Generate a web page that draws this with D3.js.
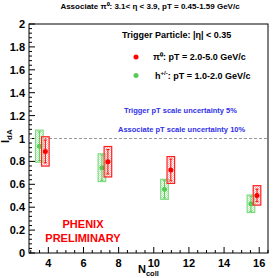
<!DOCTYPE html>
<html><head><meta charset="utf-8">
<script src="https://cdn.jsdelivr.net/npm/d3@7"></script>
<style>body{margin:0;background:#fff}svg{display:block}text{font-family:"Liberation Sans",Arial,sans-serif;font-weight:bold}</style>
</head><body><svg id="c" width="275" height="278"></svg>
<script>
// Data
const piX = [3.83, 7.39, 10.97, 15.875];
const piY = [0.887, 0.797, 0.725, 0.503];
const piStat = [0.10, 0.107, 0.095, 0.055];
const piSys = [0.128, 0.133, 0.117, 0.085];
const hX = [3.49, 7.05, 10.61, 15.53];
const hY = [0.933, 0.745, 0.556, 0.43];
const hStat = [0.125, 0.11, 0.075, 0.065];
const hSys = [0.14, 0.121, 0.087, 0.076];
const xTicks = [4, 6, 8, 10, 12, 14, 16];
const yTicks = [0, 0.2, 0.4, 0.6, 0.8, 1, 1.2, 1.4, 1.6, 1.8, 2];

const svg = d3.select("#c");
const x = d3.scaleLinear().domain([2.9, 16.5]).range([29, 268]);
const y = d3.scaleLinear().domain([0, 2]).range([253, 24]);

const defs = svg.append("defs");
function pat(id, col){
  const p = defs.append("pattern").attr("id", id).attr("width", 2).attr("height", 2).attr("patternUnits", "userSpaceOnUse");
  p.append("rect").attr("width", 1).attr("height", 1).attr("fill", col);
  p.append("rect").attr("x", 1).attr("y", 1).attr("width", 1).attr("height", 1).attr("fill", col);
}
pat("pr", "#ffb0b0");
pat("pg", "#b8ecb8");

// frame
svg.append("rect").attr("x", x.range()[0]).attr("y", y.range()[1])
  .attr("width", x.range()[1] - x.range()[0]).attr("height", y.range()[0] - y.range()[1])
  .attr("fill", "none").attr("stroke", "#000").attr("stroke-width", 1);

// minor/major ticks (inside)
const yMinor = d3.range(0, 2.0001, 0.04);
svg.append("g").selectAll("line").data(yMinor).join("line")
  .attr("x1", x.range()[0]).attr("x2", d => x.range()[0] + (yTicks.some(t => Math.abs(t - d) < 1e-6) ? 6 : 3))
  .attr("y1", d => y(d)).attr("y2", d => y(d)).attr("stroke", "#000");
const xMinor = d3.range(3, 16.51, 0.5);
svg.append("g").selectAll("line").data(xMinor).join("line")
  .attr("y1", y.range()[0]).attr("y2", d => y.range()[0] - (xTicks.includes(d) ? 6 : 3))
  .attr("x1", d => x(d)).attr("x2", d => x(d)).attr("stroke", "#000");

// tick labels
svg.append("g").selectAll("text").data(yTicks).join("text")
  .attr("x", 25).attr("y", d => y(d) + 4).attr("text-anchor", "end").attr("font-size", 11)
  .text(d => d3.format("~g")(d));
svg.append("g").selectAll("text").data(xTicks).join("text")
  .attr("x", d => x(d)).attr("y", 267).attr("text-anchor", "middle").attr("font-size", 11)
  .text(d => d);

// axis titles
const xt = svg.append("text").attr("x", 138).attr("y", 273).attr("font-size", 11);
xt.append("tspan").text("N");
xt.append("tspan").attr("font-size", 7.5).attr("dy", 2.5).text("coll");
const yt = svg.append("text").attr("transform", "translate(9,143) rotate(-90)").attr("font-size", 11);
yt.append("tspan").text("I");
yt.append("tspan").attr("font-size", 8).attr("dy", 3).text("dA");

// title
svg.append("text").attr("x", 150).attr("y", 9).attr("text-anchor", "middle").attr("font-size", 8)
  .text("Associate \u03c0\u2070: 3.1< \u03b7 < 3.9, pT = 0.45-1.59 GeV/c");

// dashed line at 1
svg.append("line").attr("x1", x.range()[0]).attr("x2", x.range()[1]).attr("y1", y(1)).attr("y2", y(1))
  .attr("stroke", "#999").attr("stroke-dasharray", "3,2");

// legend
svg.append("text").attr("x", 122).attr("y", 38).attr("font-size", 9).text("Trigger Particle: |\u03b7| < 0.35");
svg.append("circle").attr("cx", 136).attr("cy", 57).attr("r", 2.5).attr("fill", "#ff0000");
svg.append("text").attr("x", 153).attr("y", 60).attr("font-size", 9).text("\u03c0\u2070: pT = 2.0-5.0 GeV/c");
svg.append("circle").attr("cx", 136).attr("cy", 75.5).attr("r", 2.5).attr("fill", "#55cc55");
const hl = svg.append("text").attr("x", 155).attr("y", 79).attr("font-size", 9);
hl.append("tspan").text("h");
hl.append("tspan").attr("font-size", 6).attr("dy", -4).text("+/-");
hl.append("tspan").attr("dy", 4).text(": pT = 1.0-2.0 GeV/c");

svg.append("text").attr("x", 124).attr("y", 113).attr("font-size", 7.5).attr("fill", "#3030e8").text("Trigger pT scale uncertainty 5%");
svg.append("text").attr("x", 118).attr("y", 132).attr("font-size", 7.5).attr("fill", "#3030e8").text("Associate pT scale uncertainty 10%");

svg.append("text").attr("x", 83).attr("y", 228).attr("text-anchor", "middle").attr("font-size", 11).attr("fill", "#ff0000").text("PHENIX");
svg.append("text").attr("x", 83).attr("y", 242).attr("text-anchor", "middle").attr("font-size", 11).attr("fill", "#ff0000").text("PRELIMINARY");

// series
function series(xs, ys, stat, sys, line, fillPat, marker){
  const g = svg.append("g");
  const idx = d3.range(xs.length);
  g.selectAll(".box").data(idx).join("rect")
    .attr("x", i => x(xs[i]) - 3.8).attr("width", 7.6)
    .attr("y", i => y(ys[i] + sys[i])).attr("height", i => y(ys[i] - sys[i]) - y(ys[i] + sys[i]))
    .attr("fill", "url(#" + fillPat + ")").attr("stroke", line).attr("stroke-width", 1.2);
  g.selectAll(".eb").data(idx).join("line")
    .attr("x1", i => x(xs[i])).attr("x2", i => x(xs[i]))
    .attr("y1", i => y(ys[i] + stat[i])).attr("y2", i => y(ys[i] - stat[i]))
    .attr("stroke", marker).attr("stroke-width", 1);
  [1, -1].forEach(s => {
    g.selectAll(".cap" + s).data(idx).join("line")
      .attr("x1", i => x(xs[i]) - 1.5).attr("x2", i => x(xs[i]) + 1.5)
      .attr("y1", i => y(ys[i] + s * stat[i])).attr("y2", i => y(ys[i] + s * stat[i]))
      .attr("stroke", marker).attr("stroke-width", 1);
  });
  g.selectAll("circle").data(idx).join("circle")
    .attr("cx", i => x(xs[i])).attr("cy", i => y(ys[i])).attr("r", 2.5).attr("fill", marker);
}
series(hX, hY, hStat, hSys, "#7fdb7f", "pg", "#55cc55");
series(piX, piY, piStat, piSys, "#ff2020", "pr", "#ff0000");
</script></body></html>
